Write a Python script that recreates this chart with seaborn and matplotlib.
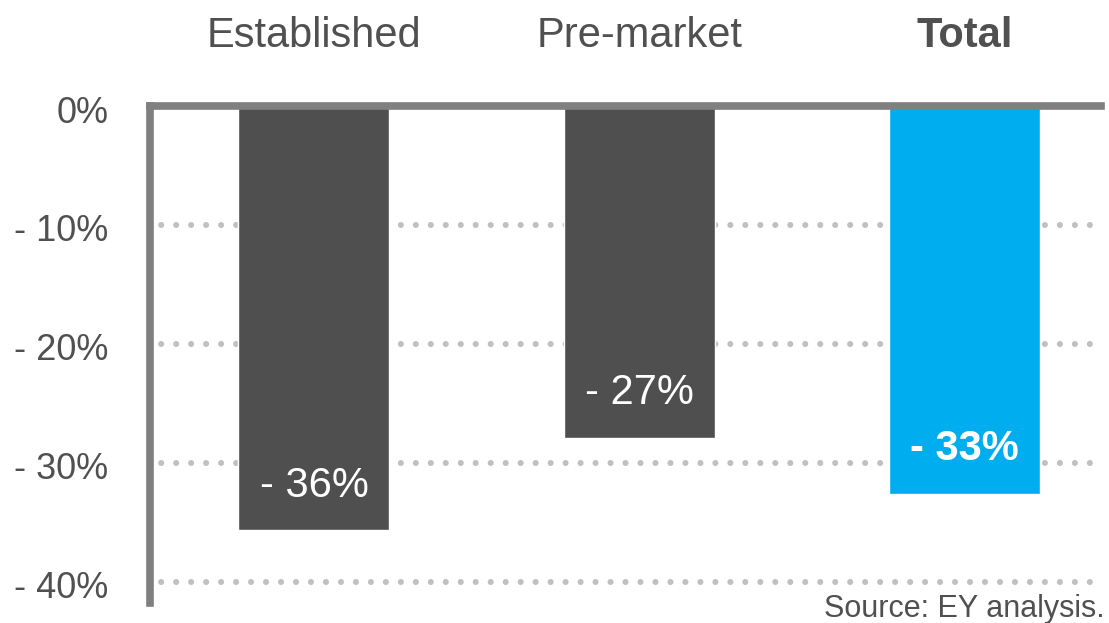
import matplotlib
matplotlib.use("Agg")
import matplotlib.pyplot as plt
import seaborn as sns
import pandas as pd
from matplotlib.transforms import ScaledTranslation

# ---- data ----
categories = ["Established", "Pre-market", "Total"]
values = [-35.7, -27.9, -32.6]
value_labels = ["- 36%", "- 27%", "- 33%"]
bar_colors = ["#4f4f4f", "#4f4f4f", "#00aeef"]
y_ticks = [0, -10, -20, -30, -40]
y_tick_labels = ["0%", "- 10%", "- 20%", "- 30%", "- 40%"]
source_note = "Source: EY analysis."

TEXT = "#505050"
SPINE = "#808080"
GRID = "#c0c0c0"

sns.set_theme(style="white")
plt.rcParams["font.family"] = ["Liberation Sans", "DejaVu Sans"]

W, H = 1109, 623
fig = plt.figure(figsize=(W / 100, H / 100), dpi=100)
ax = fig.add_axes([150 / W, 20 / H, 951 / W, (H - 20 - 106) / H])

df = pd.DataFrame({"category": categories, "value": values})
sns.barplot(data=df, x="category", y="value", hue="category",
            palette=bar_colors, width=0.464, dodge=False, legend=False,
            saturation=1, ax=ax, zorder=2)

ax.set_ylim(-41.8, 0)
ax.set_xlim(-0.504, 2.419)
ax.set_xlabel("")
ax.set_ylabel("")

# spines
for side in ["bottom", "right"]:
    ax.spines[side].set_visible(False)
for side in ["top", "left"]:
    ax.spines[side].set_visible(True)
    ax.spines[side].set_color(SPINE)
    ax.spines[side].set_linewidth(5.5)
    ax.spines[side].set_zorder(5)

# dotted gridlines
for t in y_ticks[1:]:
    ax.axhline(t, color=GRID, lw=4.4, linestyle=(0.62, (0.001, 2.45)),
               dash_capstyle="round", zorder=0.5, clip_on=False)

# category labels on top
ax.xaxis.tick_top()
ax.tick_params(axis="x", length=0, labelsize=30, pad=36, labelcolor=TEXT)
for i, lab in enumerate(ax.get_xticklabels()):
    if categories[i] == "Total":
        lab.set_fontweight("bold")

# y tick labels
ax.set_yticks(y_ticks, y_tick_labels)
ax.tick_params(axis="y", length=0, labelsize=26, pad=30, labelcolor=TEXT)
offset = ScaledTranslation(0, -3 / 100, fig.dpi_scale_trans)
for lab in ax.get_yticklabels():
    lab.set_transform(lab.get_transform() + offset)

# value labels inside the bars
for i, (v, lab) in enumerate(zip(values, value_labels)):
    ax.annotate(lab, xy=(i, v), xytext=(0, 24), textcoords="offset points",
                ha="center", va="baseline", color="white", fontsize=30,
                fontweight="bold" if categories[i] == "Total" else "normal",
                zorder=6)

fig.text(1105 / W, 6 / H, source_note, ha="right", va="baseline",
         fontsize=22, color=TEXT)

fig.savefig("out.png", dpi=100)
